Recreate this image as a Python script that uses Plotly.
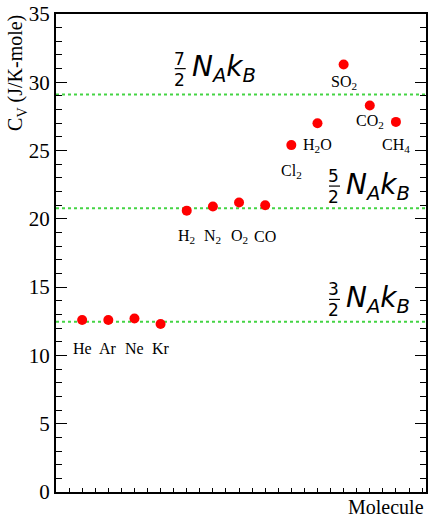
import plotly.graph_objects as go

# ---- data ----
molecules = ["He", "Ar", "Ne", "Kr", "H<sub>2</sub>", "N<sub>2</sub>", "O<sub>2</sub>", "CO",
             "Cl<sub>2</sub>", "H<sub>2</sub>O", "SO<sub>2</sub>", "CO<sub>2</sub>", "CH<sub>4</sub>"]
index = [1, 2, 3, 4, 5, 6, 7, 8, 9, 10, 11, 12, 13]
cv = [12.6, 12.6, 12.7, 12.3, 20.6, 20.9, 21.2, 21.0, 25.4, 27.0, 31.3, 28.3, 27.1]
R = 8.314
dof_factors = [1.5, 2.5, 3.5]
fractions = [("3", "2"), ("5", "2"), ("7", "2")]
y_ticks = [0, 5, 10, 15, 20, 25, 30, 35]

# ---- layout helpers (text placement) ----
label_y = [10.5, 10.5, 10.5, 10.5, 18.7, 18.7, 18.7, 18.7, 23.5, 25.4, 30.0, 27.1, 25.4]
frac_pos = [(11.09, 14.1), (11.09, 22.4), (5.19, 31.0)]

serif = "Liberation Serif"
sans = "DejaVu Sans"

fig = go.Figure()

x_range = [0, 14.15]
for f in dof_factors:
    fig.add_trace(go.Scatter(x=x_range, y=[f * R, f * R], mode="lines",
                             line=dict(color="#44d444", width=2, dash="dot"),
                             hoverinfo="skip", showlegend=False))

fig.add_trace(go.Scatter(x=index, y=cv, mode="markers",
                         marker=dict(color="#ff0000", size=10),
                         showlegend=False))

ann = []
for xi, yi, lab in zip(index, label_y, molecules):
    ann.append(dict(x=xi, y=yi, xref="x", yref="y", text=lab, showarrow=False,
                    font=dict(family=serif, size=16, color="black"),
                    xanchor="center", yanchor="middle"))

shapes = []
for (num, den), (fx, fy) in zip(fractions, frac_pos):
    ann.append(dict(x=fx, y=fy, xref="x", yref="y", text="<i>N<sub>A</sub>k<sub>B</sub></i>",
                    showarrow=False, font=dict(family=sans, size=28, color="black"),
                    xanchor="left", yanchor="middle", xshift=-2))
    ann.append(dict(x=fx, y=fy, xref="x", yref="y", text=num, showarrow=False,
                    font=dict(family=sans, size=17, color="black"),
                    xanchor="center", yanchor="middle", xshift=-12, yshift=10))
    ann.append(dict(x=fx, y=fy, xref="x", yref="y", text=den, showarrow=False,
                    font=dict(family=sans, size=17, color="black"),
                    xanchor="center", yanchor="middle", xshift=-12, yshift=-11))
    shapes.append(dict(type="line", xref="x", yref="y", xsizemode="pixel", ysizemode="pixel",
                       xanchor=fx, yanchor=fy, x0=-17, x1=-6, y0=0, y1=0,
                       line=dict(color="black", width=1.2)))

ann.append(dict(x=-0.105, y=0.877, xref="paper", yref="paper", text="C<sub>V</sub> (J/K-mole)",
                showarrow=False, textangle=-90, font=dict(family=serif, size=20, color="black"),
                xanchor="center", yanchor="middle"))
ann.append(dict(x=1.0, y=-0.004, xref="paper", yref="paper", text="Molecule",
                showarrow=False, font=dict(family=serif, size=20, color="black"),
                xanchor="right", yanchor="top"))

fig.update_layout(
    width=430, height=517,
    margin=dict(l=56, r=2, t=14, b=25),
    paper_bgcolor="white", plot_bgcolor="white",
    annotations=ann, shapes=shapes,
    xaxis=dict(range=x_range, showgrid=False, zeroline=False, showticklabels=False,
               ticks="inside", dtick=0.5, tick0=0, ticklen=4, tickcolor="black",
               showline=True, linecolor="black", linewidth=2, mirror=True),
    yaxis=dict(range=[0, 35], showgrid=False, zeroline=False,
               tickvals=y_ticks, ticks="inside", ticklen=11, tickcolor="black", tickwidth=1,
               tickfont=dict(family=serif, size=21, color="black"),
               showline=True, linecolor="black", linewidth=2, mirror="ticks",
               minor=dict(dtick=1, ticks="inside", ticklen=6, tickcolor="black")),
)

fig.write_html("out.html", config={"displayModeBar": False},
               post_script="document.body.style.margin='0px';")
